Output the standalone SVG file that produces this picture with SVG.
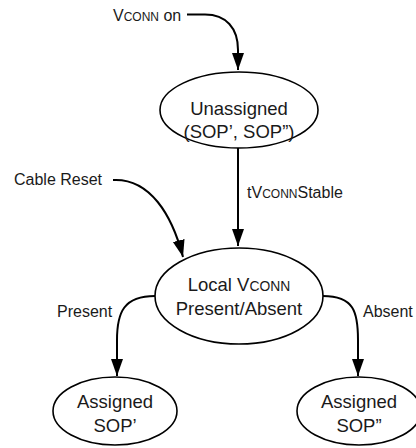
<svg xmlns="http://www.w3.org/2000/svg" width="416" height="448" viewBox="0 0 416 448">
<defs>
<style>
.node ellipse{fill:#fff;stroke:#000;stroke-width:1.6}
.nt{font-family:"Liberation Sans",Arial,sans-serif;font-size:18.5px;fill:#1a1a1a;text-anchor:middle}
.lb{font-family:"Liberation Sans",Arial,sans-serif;font-size:16px;fill:#1a1a1a}
.sc{font-size:0.75em}
.edge{fill:none;stroke:#000;stroke-width:2;marker-end:url(#ah)}
</style>
<marker id="ah" markerUnits="userSpaceOnUse" markerWidth="18" markerHeight="13" refX="17" refY="6" orient="auto">
<path d="M0,0 L17,6 L0,12 Z" fill="#000"/>
</marker>
</defs>
<g id="connectors">
<path class="edge" d="M187,14.5 L205,14.5 C226,14.5 238,28 238,50 L238,70"/>
<path class="edge" d="M238,148 L238,246"/>
<path class="edge" d="M113,180 C150,178 172,215 183,257"/>
<path class="edge" d="M155,296 C124,296 117,312 117,340 L117,376"/>
<path class="edge" d="M323,296 C354,296 358,312 358,340 L358,376"/>
</g>
<g id="labels">
<text class="lb" x="113" y="21">V<tspan class="sc">CONN</tspan> on</text>
<text class="lb" x="14" y="185">Cable Reset</text>
<text class="lb" x="247" y="198">tV<tspan class="sc">CONN</tspan>Stable</text>
<text class="lb" x="57" y="317">Present</text>
<text class="lb" x="363" y="317">Absent</text>
</g>
<g id="unassigned" class="node">
<ellipse cx="239" cy="110" rx="79" ry="38"/>
<text class="nt" x="239" y="115">Unassigned</text>
<text class="nt" x="239" y="138">(SOP’, SOP”)</text>
</g>
<g id="local" class="node">
<ellipse cx="239" cy="296" rx="84" ry="48"/>
<text class="nt" x="239" y="291">Local V<tspan class="sc">CONN</tspan></text>
<text class="nt" x="239" y="315">Present/Absent</text>
</g>
<g id="assigned1" class="node">
<ellipse cx="115" cy="411" rx="62" ry="34"/>
<text class="nt" x="115" y="408">Assigned</text>
<text class="nt" x="115" y="432">SOP’</text>
</g>
<g id="assigned2" class="node">
<ellipse cx="359" cy="411" rx="62" ry="34"/>
<text class="nt" x="359" y="408">Assigned</text>
<text class="nt" x="359" y="432">SOP”</text>
</g>
</svg>
